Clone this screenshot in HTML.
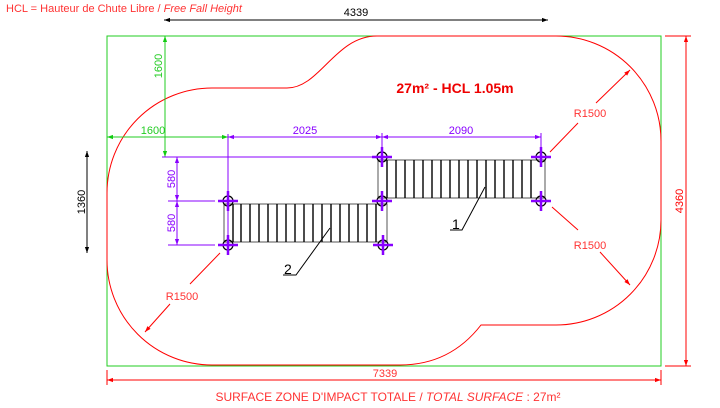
<!DOCTYPE html>
<html><head><meta charset="utf-8"><style>html,body{margin:0;padding:0;background:#fff}svg{display:block}</style></head>
<body>
<svg width="720" height="408" viewBox="0 0 720 408" xmlns="http://www.w3.org/2000/svg" font-family="Liberation Sans, sans-serif">
<defs>
<marker id="ar" viewBox="0 0 10 10" refX="10" refY="5" markerWidth="8" markerHeight="6" orient="auto-start-reverse" markerUnits="userSpaceOnUse"><path d="M0,1.5 L10,5 L0,8.5z" fill="context-stroke"/></marker>
<marker id="ak" viewBox="0 0 10 10" refX="10" refY="5" markerWidth="9" markerHeight="6" orient="auto-start-reverse" markerUnits="userSpaceOnUse"><path d="M0,1.5 L10,5 L0,8.5z" fill="#000"/></marker>
<marker id="arr" viewBox="0 0 10 10" refX="10" refY="5" markerWidth="9" markerHeight="6" orient="auto-start-reverse" markerUnits="userSpaceOnUse"><path d="M0,1.5 L10,5 L0,8.5z" fill="#f00"/></marker>
<marker id="ag" viewBox="0 0 10 10" refX="10" refY="5" markerWidth="9" markerHeight="6" orient="auto-start-reverse" markerUnits="userSpaceOnUse"><path d="M0,1.5 L10,5 L0,8.5z" fill="#1c1"/></marker>
<marker id="ap" viewBox="0 0 10 10" refX="10" refY="5" markerWidth="9" markerHeight="6" orient="auto-start-reverse" markerUnits="userSpaceOnUse"><path d="M0,1.5 L10,5 L0,8.5z" fill="#80f"/></marker>
</defs>
<text x="6" y="12" font-size="11" fill="#f33">HCL = Hauteur de Chute Libre / <tspan font-style="italic">Free Fall Height</tspan></text>
<!-- green rect -->
<rect x="107" y="36" width="554" height="330" fill="none" stroke="#2c2" stroke-width="1"/>
<!-- red outline -->
<path d="M287,88 C320,88 335,36 377,36 L556,36 A105,105 0 0 1 661,141 L661,220 A105,105 0 0 1 556,325 L481,325 Q450,365 400,365 L212,365 A105,105 0 0 1 107,260 L107,193 A105,105 0 0 1 212,88 Z" fill="none" stroke="#f00" stroke-width="1"/>
<text x="455" y="93" font-size="14" font-weight="bold" fill="#e00" text-anchor="middle">27m² - HCL 1.05m</text>
<!-- top dim 4339 -->
<line x1="164" y1="20" x2="548" y2="20" stroke="#000" marker-start="url(#ak)" marker-end="url(#ak)"/>
<text x="356" y="16" font-size="11" text-anchor="middle">4339</text>
<!-- right dim 4360 -->
<line x1="665" y1="36" x2="691" y2="36" stroke="#f00"/>
<line x1="665" y1="366" x2="691" y2="366" stroke="#f00"/>
<line x1="686" y1="36" x2="686" y2="366" stroke="#f00" marker-start="url(#arr)" marker-end="url(#arr)"/>
<text transform="translate(683,201) rotate(-90)" font-size="11" fill="#f00" text-anchor="middle">4360</text>
<!-- bottom dim 7339 -->
<line x1="107" y1="370" x2="107" y2="385" stroke="#f00"/>
<line x1="661" y1="370" x2="661" y2="385" stroke="#f00"/>
<line x1="107" y1="380" x2="661" y2="380" stroke="#f00" marker-start="url(#arr)" marker-end="url(#arr)"/>
<text x="385" y="377" font-size="11" fill="#f33" text-anchor="middle">7339</text>
<text x="388" y="401" font-size="12" fill="#f33" text-anchor="middle">SURFACE ZONE D'IMPACT TOTALE / <tspan font-style="italic">TOTAL SURFACE</tspan> : 27m²</text>
<!-- left dim 1360 -->
<line x1="87" y1="151" x2="87" y2="253" stroke="#000" marker-start="url(#ak)" marker-end="url(#ak)"/>
<text transform="translate(85,202) rotate(-90)" font-size="11" text-anchor="middle">1360</text>
<!-- green dims -->
<line x1="165" y1="36" x2="165" y2="157" stroke="#2c2" marker-start="url(#ag)" marker-end="url(#ag)"/>
<text transform="translate(162,66) rotate(-90)" font-size="11" fill="#2c2" text-anchor="middle">1600</text>
<line x1="107" y1="137" x2="228" y2="137" stroke="#2c2" marker-start="url(#ag)" marker-end="url(#ag)"/>
<text x="153" y="134" font-size="11" fill="#2c2" text-anchor="middle">1600</text>
<!-- purple dims -->
<g stroke="#80f" stroke-width="1">
<line x1="228" y1="137" x2="382" y2="137" marker-start="url(#ap)" marker-end="url(#ap)"/>
<line x1="382" y1="137" x2="541" y2="137" marker-start="url(#ap)" marker-end="url(#ap)"/>
<line x1="228" y1="134" x2="228" y2="240"/>
<line x1="541" y1="133" x2="541" y2="150"/>
<line x1="382" y1="133" x2="382" y2="150"/>
<line x1="162" y1="157" x2="378" y2="157"/>
<line x1="168" y1="201" x2="215" y2="201"/>
<line x1="168" y1="245" x2="215" y2="245"/>
<line x1="177" y1="157" x2="177" y2="201" marker-start="url(#ap)" marker-end="url(#ap)"/>
<line x1="177" y1="201" x2="177" y2="245" marker-start="url(#ap)" marker-end="url(#ap)"/>
</g>
<text x="305" y="134" font-size="11" fill="#80f" text-anchor="middle">2025</text>
<text x="461" y="134" font-size="11" fill="#80f" text-anchor="middle">2090</text>
<text transform="translate(175,179) rotate(-90)" font-size="11" fill="#80f" text-anchor="middle">580</text>
<text transform="translate(175,223) rotate(-90)" font-size="11" fill="#80f" text-anchor="middle">580</text>
<!-- stairs -->
<g fill="none" stroke="#000">
<rect x="224" y="204" width="163" height="38" stroke="#555"/>
<rect x="378" y="160" width="167" height="38" stroke="#555"/>
<path id="s1" d="M233,204v38M241,204v38M250,204v38M259,204v38M268,204v38M277,204v38M286,204v38M295,204v38M304,204v38M313,204v38M322,204v38M331,204v38M340,204v38M349,204v38M358,204v38M367,204v38M376,204v38" stroke-width="1.4"/>
<path d="M387,160v38M396,160v38M405,160v38M414,160v38M423,160v38M432,160v38M441,160v38M450,160v38M459,160v38M468,160v38M477,160v38M486,160v38M495,160v38M504,160v38M513,160v38M522,160v38M531,160v38" stroke-width="1.4"/>
</g>
<!-- posts -->
<g stroke="#80f" stroke-width="2.5">
<g fill="none" stroke="#000" stroke-width="1.2">
<circle cx="228" cy="201" r="5"/><circle cx="228" cy="245" r="5"/><circle cx="382" cy="157" r="5"/><circle cx="382" cy="201" r="5"/><circle cx="383" cy="245" r="5"/><circle cx="541" cy="157" r="5"/><circle cx="541" cy="201" r="5"/>
</g>
<path d="M218,201h20M228,191v20M218,245h20M228,235v20M372,157h20M382,147v20M372,201h20M382,191v20M373,245h20M383,235v20M531,157h20M541,147v20M531,201h20M541,191v20"/>
</g>
<!-- leaders -->
<path d="M485,187 L462,230 L450,230" stroke="#000" fill="none"/>
<text x="452" y="229" font-size="14">1</text>
<path d="M330,228 L296,275 L283,275" stroke="#000" fill="none"/>
<text x="284" y="274" font-size="14">2</text>
<!-- R1500 -->
<g stroke="#f00" fill="none">
<line x1="550" y1="152" x2="578" y2="123"/><line x1="596" y1="103" x2="630" y2="70" marker-end="url(#arr)"/>
<line x1="552" y1="207" x2="578" y2="230"/><line x1="600" y1="252" x2="630" y2="285" marker-end="url(#arr)"/>
<line x1="220" y1="253" x2="190" y2="284"/><line x1="170" y1="304" x2="145" y2="332" marker-end="url(#arr)"/>
</g>
<text x="590" y="117" font-size="11" fill="#f33" text-anchor="middle">R1500</text>
<text x="590" y="249" font-size="11" fill="#f33" text-anchor="middle">R1500</text>
<text x="182" y="300" font-size="11" fill="#f33" text-anchor="middle">R1500</text>
</svg>
</body></html>
